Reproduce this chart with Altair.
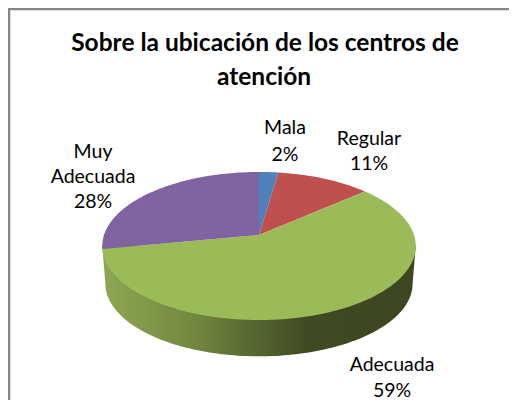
import math
import altair as alt
import pandas as pd

categories = ["Mala", "Regular", "Adecuada", "Muy Adecuada"]
shares = [2.3, 11.2, 58.5, 28.0]
colors = ["#4F81BD", "#C0504D", "#9BBB59", "#8064A2"]
title_lines = ["Sobre la ubicación de los centros de", "atención"]
label_lines = [["Mala", "2%"], ["Regular", "11%"], ["Adecuada", "59%"], ["Muy", "Adecuada", "28%"]]
label_anchor_x = [285, 369, 392, 93]
label_anchor_y = [128, 139, 365, 152]
label_gap = [26.5, 25, 26, 25]

W, H = 501, 392
CX, CY = 259, 235
A, S, K = 155, 72.4, 0.1486
DEPTH, SHRINK = 38, 0.98

x_scale = alt.Scale(domain=[8, 8 + W], nice=False, zero=False)
y_scale = alt.Scale(domain=[8 + H, 8], nice=False, zero=False)


def project(theta, shift=0.0, f=1.0):
    u, v = math.sin(theta), math.cos(theta)
    d = 1 + K * v
    return CX + f * A * u / d, CY + shift - f * S * v / d


def poly(points, fill):
    df = pd.DataFrame({"x": [p[0] for p in points], "y": [p[1] for p in points], "i": range(len(points))})
    return alt.Chart(df).mark_line(fill=fill, strokeWidth=0, interpolate="linear-closed").encode(
        x=alt.X("x:Q", scale=x_scale, axis=None),
        y=alt.Y("y:Q", scale=y_scale, axis=None),
        order="i:Q",
    )


layers = []

# side wall: lower half of the shifted rim, closed through the top rim's ends
tangent = math.pi / 2 + math.asin(K)
rim = [project(tangent + (2 * math.pi - 2 * tangent) * i / 120, DEPTH, SHRINK) for i in range(121)]
side_pts = [project(tangent)] + rim + [project(2 * math.pi - tangent)]
gradient = alt.LinearGradient(
    gradient="linear", x1=0, y1=0, x2=1, y2=0,
    stops=[
        alt.GradientStop(offset=0, color="#8EA852"),
        alt.GradientStop(offset=0.3, color="#71873F"),
        alt.GradientStop(offset=0.65, color="#3F4A22"),
        alt.GradientStop(offset=1, color="#3C4722"),
    ],
)
layers.append(poly(side_pts, gradient))

# top face: slices clockwise from twelve o'clock
start = 0.0
total = sum(shares)
for share, color in zip(shares, colors):
    a0 = start / total * 2 * math.pi
    a1 = (start + share) / total * 2 * math.pi
    n = max(4, int(share * 3))
    pts = [(CX, CY)] + [project(a0 + (a1 - a0) * i / n) for i in range(n + 1)]
    layers.append(poly(pts, color))
    start += share

# frame lines of the original picture
frame_left = pd.DataFrame({"x": [9, 9], "y": [8, 8 + H]})
frame_top = pd.DataFrame({"x": [8, 8 + W], "y": [9, 9]})
for fr in (frame_left, frame_top):
    layers.append(alt.Chart(fr).mark_line(color="#868686", strokeWidth=2.5).encode(
        x=alt.X("x:Q", scale=x_scale, axis=None),
        y=alt.Y("y:Q", scale=y_scale, axis=None),
    ))

# title
title_df = pd.DataFrame({"t": title_lines, "x": [265, 264], "y": [44, 78]})
layers.append(alt.Chart(title_df).mark_text(
    font="Lato", fontWeight="bold", fontSize=24.5, color="#000000", align="center", baseline="middle"
).encode(
    x=alt.X("x:Q", scale=x_scale, axis=None),
    y=alt.Y("y:Q", scale=y_scale, axis=None),
    text="t:N",
))

# data labels
rows = []
for lines, lx, ly, gap in zip(label_lines, label_anchor_x, label_anchor_y, label_gap):
    for j, line in enumerate(lines):
        rows.append({"t": line, "x": lx, "y": ly + j * gap})
layers.append(alt.Chart(pd.DataFrame(rows)).mark_text(
    font="Lato", fontSize=19.5, color="#000000", align="center", baseline="middle"
).encode(
    x=alt.X("x:Q", scale=x_scale, axis=None),
    y=alt.Y("y:Q", scale=y_scale, axis=None),
    text="t:N",
))

chart = alt.layer(*layers).properties(
    width=W, height=H, padding=0, autosize=alt.AutoSizeParams(type="none"), background="#FFFFFF"
).configure_view(stroke=None)

chart.save("out.html", embed_options={"renderer": "svg", "actions": False})
